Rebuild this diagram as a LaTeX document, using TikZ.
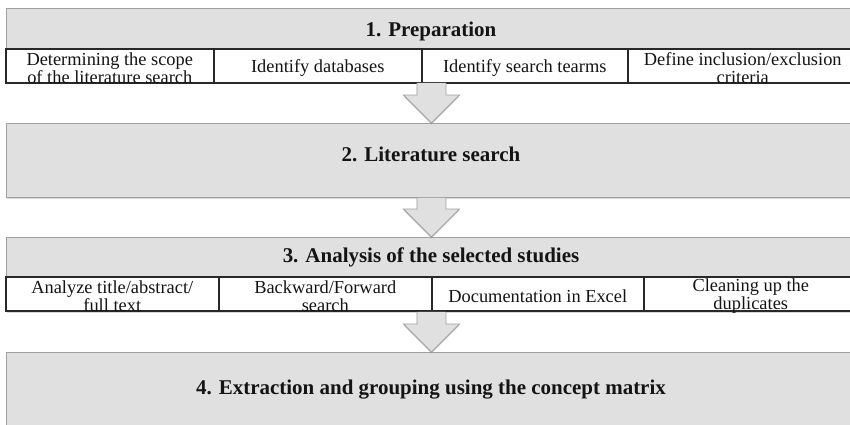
\documentclass[tikz,border=0pt]{standalone}
\usepackage{fontspec}
\setmainfont{Liberation Serif}
\usetikzlibrary{calc,shadows}

\definecolor{boxgray}{RGB}{224,224,224}
\definecolor{edgegray}{RGB}{160,160,160}
\definecolor{celledge}{RGB}{40,40,40}
\definecolor{inkdark}{RGB}{20,20,20}

\tikzset{
  stage/.style={draw=edgegray, fill=boxgray, line width=0.7pt, anchor=north west,
    minimum width=25.5cm, minimum height=2.22cm, inner sep=0pt,
    drop shadow={shadow xshift=0.4pt, shadow yshift=-1.6pt, opacity=0.3}},
  title/.style={anchor=base, text=inkdark, inner sep=0pt,
    font=\fontsize{17.9}{20}\selectfont\bfseries},
  cell/.style={draw=celledge, fill=white, line width=1.3pt, anchor=north west,
    minimum height=1.02cm, inner sep=0pt,
    drop shadow={shadow xshift=0.4pt, shadow yshift=-1.4pt, opacity=0.3}},
  celltext/.style={align=center, text=inkdark, inner sep=0pt,
    font=\fontsize{15.7}{15}\selectfont},
  flow/.style={draw=edgegray, fill=boxgray, line width=0.7pt, line join=miter,
    drop shadow={shadow xshift=0pt, shadow yshift=-1.5pt, opacity=0.25}}
}

\begin{document}
\begin{tikzpicture}[x=0.03cm, y=-0.03cm]
  \useasboundingbox (0,0) rectangle (850,424);
  \clip (0,0) rectangle (850,424);

  % stages
  \node[stage] (prep) at (6,8) {};
  \node[stage] (lit) at (6,123) {};
  \node[stage] (ana) at (6,237) {};
  \node[stage] (ext) at (6,352) {};

  \node[title] (prepT) at (431,37) {1. Preparation};
  \node[title] (litT) at (431,161) {2. Literature search};
  \node[title] (anaT) at (431,262.5) {3. Analysis of the selected studies};
  \node[title] (extT) at (431,394) {4. Extraction and grouping using the concept matrix};

  % steps of the preparation
  \foreach \xa/\xb/\txt [count=\i] in {5/213/{Determining the scope\\of the literature search},
      213/421/{Identify databases}, 421/627/{Identify search tearms},
      627/857/{Define inclusion/exclusion\\criteria}} {
    \node[cell, minimum width={(\xb-\xa)*0.03cm}] (p\i) at (\xa,48) {};
    \node[celltext] (pt\i) at ($(p\i.center)+(0,2.5)$) {\txt};
  }

  % steps of the analysis
  \foreach \xa/\xb/\txt [count=\i] in {5/218/{Analyze title/abstract/\\full text},
      218/431/{Backward/Forward\\search}, 431/643/{Documentation in Excel},
      643/857/{Cleaning up the\\duplicates}} {
    \node[cell, minimum width={(\xb-\xa)*0.03cm}] (a\i) at (\xa,276) {};
    \node[celltext] (at\i) at ($(a\i.center)+(0,2.5)$) {\txt};
  }

  % block arrows
  \foreach \a/\b in {prep/lit, lit/ana, ana/ext}
    \path[flow] ($(\a.south)+(-14.5,0)$) -- ($(\b.north)+(-14.5,-28)$)
      -- ($(\b.north)+(-28,-28)$) -- (\b.north) -- ($(\b.north)+(28,-28)$)
      -- ($(\b.north)+(14.5,-28)$) -- ($(\a.south)+(14.5,0)$);
\end{tikzpicture}
\end{document}
